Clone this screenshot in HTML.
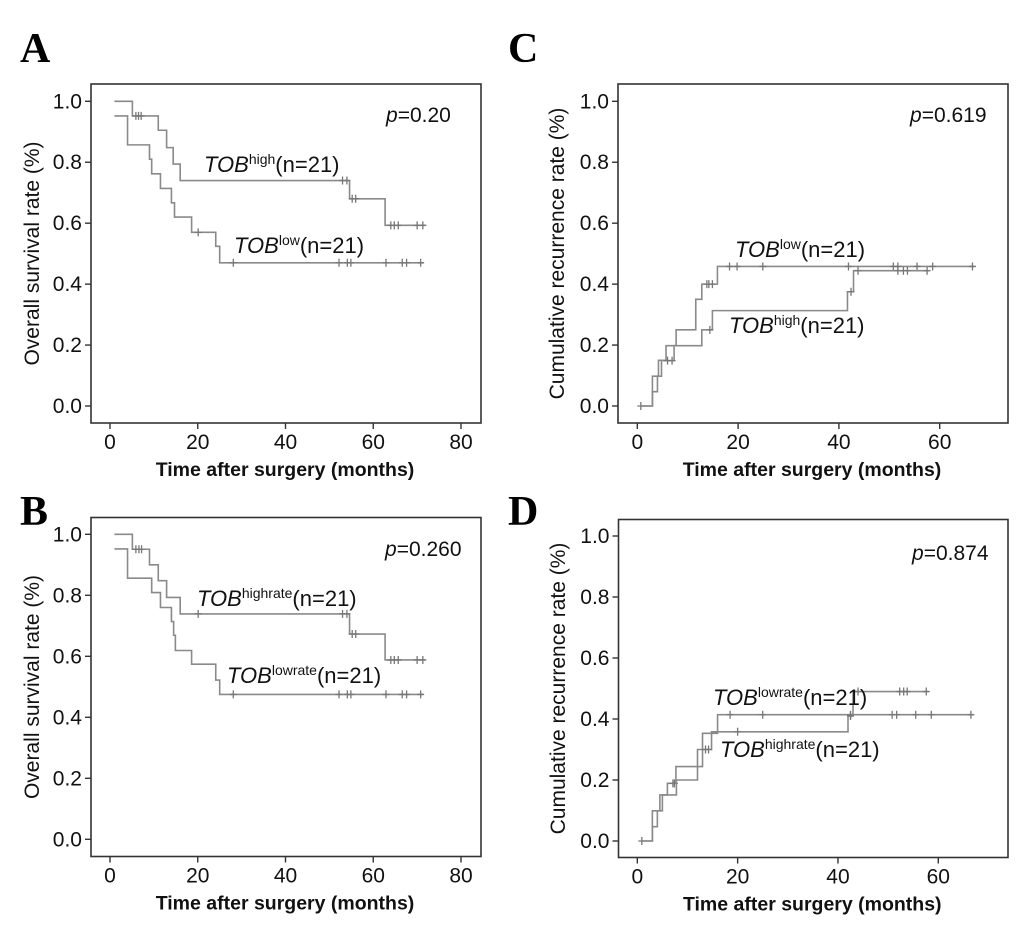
<!DOCTYPE html>
<html><head><meta charset="utf-8"><style>
html,body{margin:0;padding:0;background:#fff;}
svg{display:block;font-family:"Liberation Sans",Arial,sans-serif;}
</style></head><body>
<svg id="fig" width="1035" height="934" viewBox="0 0 1035 934" xmlns="http://www.w3.org/2000/svg"></svg>
<script>
// ---- Panel A (overall survival, TOB high/low) ----
const aHighT = [5.1, 11, 12.9, 14.4, 16, 54.6, 62.7];
const aHighV = [0.952, 0.905, 0.848, 0.794, 0.74, 0.68, 0.593];
const aHighCens = [5.9, 6.5, 7.1, 53, 54, 55.2, 56, 64, 64.8, 65.7, 70, 71.3];
const aLowT = [4, 9, 9.5, 11.5, 14, 14.7, 18.6, 24.1, 25];
const aLowV = [0.857, 0.81, 0.762, 0.714, 0.667, 0.62, 0.57, 0.524, 0.47];
const aLowCens = [20.1, 28.1, 52.2, 54.1, 54.9, 62.9, 66.6, 67.6, 70.8];
// ---- Panel B (overall survival, TOB highrate/lowrate) ----
const bHighT = [5.1, 9, 11, 12.9, 16, 54.6, 62.7];
const bHighV = [0.951, 0.9, 0.848, 0.793, 0.739, 0.673, 0.588];
const bHighCens = [5.9, 6.6, 7.2, 20.1, 53, 54, 55.2, 56, 64, 64.8, 65.7, 70, 71.3];
const bLowT = [4, 9.5, 11.5, 14, 14.5, 14.9, 18.6, 24.1, 25];
const bLowV = [0.856, 0.809, 0.76, 0.714, 0.669, 0.619, 0.574, 0.522, 0.475];
const bLowCens = [28.1, 52.2, 54.1, 54.9, 62.9, 66.6, 67.6, 70.8];
// ---- Panel C (cumulative recurrence, TOB low/high) ----
const cLowT = [3, 4.2, 5.7, 7.7, 11.6, 12.8, 15.9];
const cLowV = [0.098, 0.15, 0.198, 0.25, 0.35, 0.4, 0.458];
const cLowCens = [0.7, 13.8, 14.2, 14.9, 18.3, 19.8, 24.9, 41.9, 50.8, 51.7, 55.5, 58.6, 66.5];
const cHighT = [3, 4, 4.8, 7.3, 12.8, 14.9, 41.7, 42.9];
const cHighV = [0.047, 0.098, 0.149, 0.198, 0.25, 0.313, 0.375, 0.444];
const cHighCens = [6, 6.9, 14.4, 42.4, 43.8, 51.7, 52.8, 53.6, 57.5];
// ---- Panel D (cumulative recurrence, TOB lowrate/highrate) ----
const dLowT = [3, 4.5, 6, 7.7, 13, 16];
const dLowV = [0.099, 0.151, 0.189, 0.244, 0.353, 0.414];
const dLowCens = [0.9, 7.1, 7.4, 18.5, 25, 42.5, 50.8, 51.7, 55.5, 58.6, 66.5];
const dHighT = [3, 4, 5, 7.8, 12, 14.8, 42, 43];
const dHighV = [0.047, 0.099, 0.151, 0.2, 0.3, 0.358, 0.41, 0.49];
const dHighCens = [13.6, 14.2, 20, 42.5, 44, 52.3, 53.1, 53.8, 57.6];
// ---- ticks ----
const yTicks = [0.0, 0.2, 0.4, 0.6, 0.8, 1.0];
const xTicksAB = [0, 20, 40, 60, 80];
const xTicksCD = [0, 20, 40, 60];

const NS = "http://www.w3.org/2000/svg";
const svg = document.getElementById('fig');
function mk(tag, attrs, parent) {
  const e = document.createElementNS(NS, tag);
  for (const k in attrs) e.setAttribute(k, attrs[k]);
  (parent || svg).appendChild(e);
  return e;
}
function stepPath(startV, endT, T, V, sx, sy, startT) {
  let d = 'M' + sx(startT) + ',' + sy(startV);
  for (let i = 0; i < T.length; i++) {
    d += ' H' + sx(T[i]) + ' V' + sy(V[i]);
  }
  d += ' H' + sx(endT);
  return d;
}
function valueAt(t, startV, T, V) {
  let v = startV;
  for (let i = 0; i < T.length; i++) if (T[i] <= t) v = V[i];
  return v;
}
function panel(p) {
  const g = mk('g', {});
  
  
  const sx = t => p.x0 + (t - 0) * (p.x1 - p.x0) / p.xmax;
  const sy = v => p.y0 - v * (p.y0 - p.y1);
  const box = mk('rect', {x: p.bl, y: p.bt, width: p.br - p.bl, height: p.bb - p.bt, fill: 'none', stroke: '#333', 'stroke-width': 1.6}, g);
  
  
  yTicks.forEach(v => {
    const y = sy(v);
    const tk = mk('line', {x1: p.bl - 6, x2: p.bl, y1: y, y2: y, stroke: '#333', 'stroke-width': 1.4}, g);
    
    
    const tl = mk('text', {x: p.bl - 9, y: y + 7, 'text-anchor': 'end', 'font-size': 21, fill: '#111'}, g);
    tl.textContent = v.toFixed(1);
    
    
  });
  p.xt.forEach(t => {
    const x = sx(t);
    const tk = mk('line', {x1: x, x2: x, y1: p.bb, y2: p.bb + 6, stroke: '#333', 'stroke-width': 1.4}, g);
    
    
    const tl = mk('text', {x: x, y: p.bb + 26, 'text-anchor': 'middle', 'font-size': 21, fill: '#111'}, g);
    tl.textContent = t;
    
    
  });
  const xt = mk('text', {x: (p.bl + p.br) / 2 - 1, y: p.bb + 53, 'text-anchor': 'middle', 'font-size': 19.5, 'font-weight': 'bold', fill: '#111'}, g);
  xt.textContent = 'Time after surgery (months)';
  
  
  const yt = mk('text', {x: 0, y: 0, 'text-anchor': 'middle', 'font-size': 21, fill: '#111', transform: 'translate(' + p.ytx + ',' + ((p.bt + p.bb) / 2) + ') rotate(-90)'}, g);
  yt.textContent = p.ytitle;
  
  
  const lt = mk('text', {x: p.lx, y: p.ly, 'font-size': 42, 'font-weight': 'bold', 'font-family': '"Liberation Serif",serif', fill: '#000'}, g);
  lt.textContent = p.letter;
  
  
  p.series.forEach(s => {
    const path = mk('path', {d: stepPath(s.start, s.end, s.T, s.V, sx, sy, s.st), fill: 'none', stroke: '#8a8a8a', 'stroke-width': 1.6}, g);
    
    
    s.C.forEach(t => {
      const x = sx(t), y = sy(valueAt(t, s.start, s.T, s.V));
      const c = mk('path', {d: 'M' + (x - 3.5) + ',' + y + ' H' + (x + 3.5) + ' M' + x + ',' + (y - 4) + ' V' + (y + 4), stroke: '#777', 'stroke-width': 1.3}, g);
      
      
    });
  });
  const pv = mk('text', {x: p.px, y: p.py, 'font-size': 21, fill: '#111'}, g);
  pv.innerHTML = '<tspan font-style="italic">p</tspan>=' + p.pval;
  
  
  p.labels.forEach(l => {
    const t = mk('text', {x: l.x, y: l.y, 'font-size': 22, fill: '#111'}, g);
    t.innerHTML = '<tspan font-style="italic">TOB</tspan><tspan font-size="14" dy="-8">' + l.sup + '</tspan><tspan dy="8">(n=21)</tspan>';
    
    
  });
}
panel({name: 'panel-a', letter: 'A', lx: 20, ly: 62, bl: 91, br: 481, bt: 84, bb: 423, x0: 110, x1: 461, xmax: 80, y0: 406, y1: 101.3,
  xt: xTicksAB, ytx: 39, ytitle: 'Overall survival rate (%)', px: 386, py: 122, pval: '0.20',
  series: [{id: 'tob-high', start: 1, st: 1, end: 71.8, T: aHighT, V: aHighV, C: aHighCens},
           {id: 'tob-low', start: 0.952, st: 1, end: 71.4, T: aLowT, V: aLowV, C: aLowCens}],
  labels: [{id: 'tob-high', sup: 'high', x: 204, y: 172}, {id: 'tob-low', sup: 'low', x: 234, y: 253}]});
panel({name: 'panel-b', letter: 'B', lx: 20, ly: 525, bl: 91, br: 481, bt: 517.5, bb: 856.5, x0: 110, x1: 461, xmax: 80, y0: 839.3, y1: 534.3,
  xt: xTicksAB, ytx: 39, ytitle: 'Overall survival rate (%)', px: 385, py: 556, pval: '0.260',
  series: [{id: 'tob-highrate', start: 1, st: 1, end: 71.8, T: bHighT, V: bHighV, C: bHighCens},
           {id: 'tob-lowrate', start: 0.952, st: 1, end: 71.4, T: bLowT, V: bLowV, C: bLowCens}],
  labels: [{id: 'tob-highrate', sup: 'highrate', x: 197, y: 606}, {id: 'tob-lowrate', sup: 'lowrate', x: 227, y: 683}]});
panel({name: 'panel-c', letter: 'C', lx: 508, ly: 62, bl: 618, br: 1008, bt: 84, bb: 423, x0: 637.3, x1: 939.7, xmax: 60, y0: 406, y1: 101.3,
  xt: xTicksCD, ytx: 564, ytitle: 'Cumulative recurrence rate (%)', px: 910, py: 122, pval: '0.619',
  series: [{id: 'tob-low', start: 0, st: 0.7, end: 66.9, T: cLowT, V: cLowV, C: cLowCens},
           {id: 'tob-high', start: 0, st: 0.7, end: 57.9, T: cHighT, V: cHighV, C: cHighCens}],
  labels: [{id: 'tob-low', sup: 'low', x: 735, y: 257}, {id: 'tob-high', sup: 'high', x: 729, y: 333}]});
panel({name: 'panel-d', letter: 'D', lx: 508, ly: 525, bl: 618.5, br: 1008, bt: 519.5, bb: 857.5, x0: 637.3, x1: 938.3, xmax: 60, y0: 841, y1: 536,
  xt: xTicksCD, ytx: 565, ytitle: 'Cumulative recurrence rate (%)', px: 912, py: 560, pval: '0.874',
  series: [{id: 'tob-lowrate', start: 0, st: 0.9, end: 67, T: dLowT, V: dLowV, C: dLowCens},
           {id: 'tob-highrate', start: 0, st: 0.9, end: 58, T: dHighT, V: dHighV, C: dHighCens}],
  labels: [{id: 'tob-lowrate', sup: 'lowrate', x: 713, y: 705}, {id: 'tob-highrate', sup: 'highrate', x: 720, y: 757}]});
</script>
</body></html>
